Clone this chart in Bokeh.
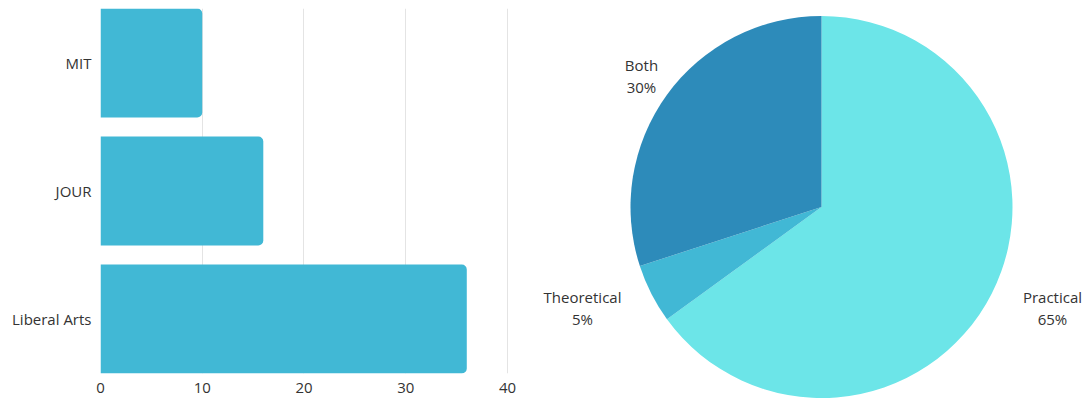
import math
from bokeh.plotting import figure
from bokeh.layouts import row
from bokeh.models import Range1d, FixedTicker, ColumnDataSource
from bokeh.core.properties import value
from bokeh.embed import file_html
from bokeh.resources import INLINE

# ---- data ----
bar_categories = ["Liberal Arts", "JOUR", "MIT"]   # bottom to top
bar_values = [36, 16, 10]
x_ticks = [0, 10, 20, 30, 40]

pie_labels = ["Practical", "Theoretical", "Both"]
pie_values = [65, 5, 30]
pie_colors = ["#6CE5E8", "#41B8D5", "#2D8BBA"]

FONT = "Open Sans"
TEXT_COLOR = "#333333"
BAR_COLOR = "#41B8D5"

# ---- bar chart ----
ypos = list(range(len(bar_categories)))
p1 = figure(width=530, height=400, frame_width=408, frame_height=365,
            x_range=Range1d(0, 40.1), y_range=Range1d(-0.426, len(bar_categories) - 1 + 0.426),
            output_backend="svg", toolbar_location=None,
            min_border_left=100, min_border_top=8, min_border_right=22, min_border_bottom=27)
p1.hbar(y=ypos, right=bar_values, left=0, height=0.852, color=BAR_COLOR,
        line_color=None, border_radius=(0, 5, 5, 0))
p1.outline_line_color = None
p1.ygrid.visible = False
p1.xgrid.grid_line_color = "#e4e4e4"
p1.xgrid.ticker = FixedTicker(ticks=x_ticks)
p1.xaxis.ticker = FixedTicker(ticks=x_ticks)
p1.yaxis.ticker = FixedTicker(ticks=ypos)
p1.yaxis.major_label_overrides = {i: c for i, c in zip(ypos, bar_categories)}
for ax in (p1.xaxis[0], p1.yaxis[0]):
    ax.axis_line_color = None
    ax.major_tick_line_color = None
    ax.minor_tick_line_color = None
    ax.major_tick_out = 0
    ax.major_tick_in = 0
    ax.major_label_text_font = FONT
    ax.major_label_text_font_size = "15px"
    ax.major_label_text_color = TEXT_COLOR
p1.yaxis.major_label_standoff = 9
p1.xaxis.major_label_standoff = 9

# ---- pie chart ----
W2, H2 = 557, 392
p2 = figure(width=W2, height=400, frame_width=W2, frame_height=H2,
            x_range=Range1d(0, W2), y_range=Range1d(0, H2),
            output_backend="svg", toolbar_location=None,
            min_border=0, min_border_top=8)
p2.axis.visible = False
p2.grid.visible = False
p2.outline_line_color = None

cx, cy, R = 291, 193.5, 191
total = sum(pie_values)
starts, ends = [], []
cum = 0
for v in pie_values:
    starts.append(math.pi / 2 - cum / total * 2 * math.pi)
    cum += v
    ends.append(math.pi / 2 - cum / total * 2 * math.pi)
src = ColumnDataSource(dict(start=starts, end=ends, color=pie_colors))
p2.wedge(x=cx, y=cy, radius=R, start_angle="start", end_angle="end",
         direction="clock", fill_color="color", line_color=None, source=src)

label_offsets = [(231, -100.5), (-239, -100.5), (-180, 131.5)]
texts = [f"{l}\n{round(v / total * 100)}%" for l, v in zip(pie_labels, pie_values)]
p2.text(x=[cx + dx for dx, dy in label_offsets], y=[cy + dy for dx, dy in label_offsets],
        text=texts, text_align="center", text_baseline="middle",
        text_font=value(FONT), text_font_size="15px", text_color=TEXT_COLOR,
        text_line_height=1.1)

layout = row(p1, p2)
open("out.html", "w").write(file_html(layout, INLINE))
